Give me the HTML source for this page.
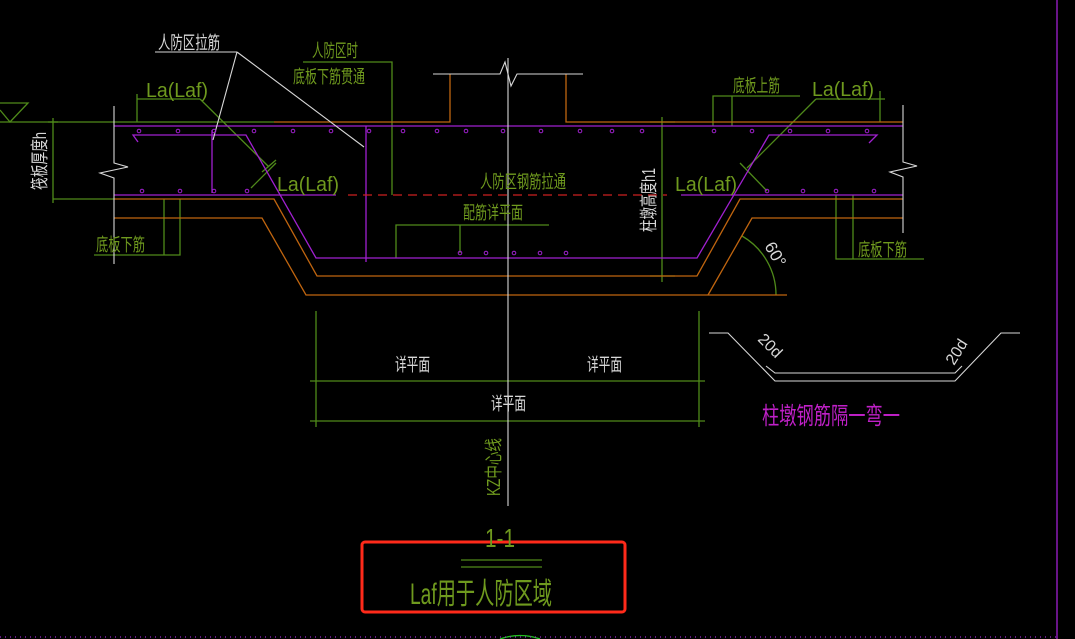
<!DOCTYPE html>
<html><head><meta charset="utf-8"><style>
html,body{margin:0;padding:0;background:#000;width:1075px;height:639px;overflow:hidden;}
svg{display:block;}
text{font-family:"Liberation Sans","Noto Sans CJK SC",sans-serif;}
.g{fill:#6f9a1e;}
.w{fill:#d8d8d8;}
</style></head><body>
<svg width="1075" height="639" viewBox="0 0 1075 639" xmlns="http://www.w3.org/2000/svg" overflow="hidden">
<rect width="1075" height="639" fill="#000"/>
<g fill="none" stroke-width="1.3">
<g stroke="#4f8a1a">
<polyline points="0,122 274,122"/>
<polyline points="0,103 28,103 10,122 0,110"/>
<line x1="53" y1="118" x2="53" y2="203"/>
<line x1="53" y1="199" x2="114" y2="199"/>
<line x1="48" y1="122" x2="58" y2="122"/>
<polyline points="137,94 137,122"/><line x1="137" y1="99" x2="200" y2="99"/>
<line x1="200" y1="99" x2="269" y2="167"/>
<line x1="262" y1="172" x2="276" y2="160"/>
<line x1="251" y1="188" x2="276" y2="163"/>
<polyline points="303,62 392,62 392,195"/>
<polyline points="94,255 180,255 180,199"/><line x1="164" y1="199" x2="164" y2="255"/>
<polyline points="396,258 396,225 549,225"/><line x1="460" y1="225" x2="460" y2="253"/>
<polyline points="713,126 713,96 800,96"/><line x1="732" y1="96" x2="732" y2="126"/>
<polyline points="816,99 885,99"/><line x1="880" y1="91" x2="880" y2="122"/>
<line x1="816" y1="99" x2="747" y2="168"/>
<line x1="740" y1="163" x2="767" y2="191"/>
<line x1="662" y1="117" x2="662" y2="282"/>
<line x1="650" y1="122" x2="675" y2="122"/><line x1="650" y1="276" x2="675" y2="276"/>
<polyline points="836,195 836,259 924,259"/><line x1="853" y1="195" x2="853" y2="259"/>
<path d="M742,236 A68,68 0 0 1 776,295"/>
<line x1="316" y1="311" x2="316" y2="427"/><line x1="699" y1="311" x2="699" y2="427"/>
<line x1="310" y1="381" x2="705" y2="381"/><line x1="310" y1="421" x2="705" y2="421"/>
<line x1="461" y1="560" x2="542" y2="560"/><line x1="461" y1="567" x2="542" y2="567"/>
</g>
<path d="M500,639 Q520,632 540,639" stroke="#20c020"/>
<g stroke="#c0650f">
<polyline points="274,122 450,122 450,74"/>
<polyline points="566,74 566,122 903,122"/>
<polyline points="114,199 274,199 317,276 697,276 740,199 903,199"/>
<polyline points="114,218 262,218 306,295 787,295"/>
<polyline points="708,295 752,218 903,218"/>
</g>
<g stroke="#a020d0">
<line x1="114" y1="126" x2="903" y2="126"/>
<polyline points="138,142 133,135 246,135 316,258 697,258 769,135 877,135 869,143"/>
<line x1="114" y1="195" x2="336" y2="195"/>
<line x1="681" y1="195" x2="903" y2="195"/>
<line x1="366" y1="126" x2="366" y2="262"/>
<line x1="212" y1="130" x2="212" y2="193"/>
<line x1="1057" y1="0" x2="1057" y2="639"/>
</g>
<line x1="348" y1="195" x2="667" y2="195" stroke="#cc2020" stroke-dasharray="9,6"/>
<line x1="0" y1="637" x2="1057" y2="637" stroke="#a020d0" stroke-dasharray="1,4"/>
<g stroke="#d8d8d8" stroke-width="1.1">
<polyline points="155,52 237,52"/>
<line x1="237" y1="52" x2="213" y2="140"/>
<line x1="237" y1="52" x2="364" y2="147"/>
<polyline points="433,74 500,74 505,62 511,86 517,74 583,74"/>
<polyline points="114,106 114,163 128,167 100,173 114,178 114,264"/>
<polyline points="903,105 903,162 917,166 890,172 903,177 903,233"/>
<line x1="508" y1="58" x2="508" y2="506"/>
<polyline points="709,333 728,333 775,381 955,381 1001,333 1020,333"/>
<polyline points="766,366 775,373 955,373 962,366"/>
</g>
<rect x="362" y="542" width="263" height="70" rx="3" stroke="#ff2a1a" stroke-width="3"/>
</g>
<g fill="none" stroke="#a020d0" stroke-width="1">
<circle cx="139" cy="131" r="1.8"/><circle cx="178" cy="131" r="1.8"/><circle cx="214" cy="131" r="1.8"/><circle cx="254" cy="131" r="1.8"/><circle cx="293" cy="131" r="1.8"/><circle cx="331" cy="131" r="1.8"/><circle cx="369" cy="131" r="1.8"/><circle cx="403" cy="131" r="1.8"/><circle cx="437" cy="131" r="1.8"/><circle cx="466" cy="131" r="1.8"/><circle cx="503" cy="131" r="1.8"/><circle cx="541" cy="131" r="1.8"/><circle cx="580" cy="131" r="1.8"/><circle cx="612" cy="131" r="1.8"/><circle cx="642" cy="131" r="1.8"/><circle cx="714" cy="131" r="1.8"/><circle cx="752" cy="131" r="1.8"/><circle cx="790" cy="131" r="1.8"/><circle cx="828" cy="131" r="1.8"/><circle cx="867" cy="131" r="1.8"/>
<circle cx="142" cy="191" r="1.8"/><circle cx="180" cy="191" r="1.8"/><circle cx="214" cy="191" r="1.8"/><circle cx="247" cy="191" r="1.8"/><circle cx="767" cy="191" r="1.8"/><circle cx="803" cy="191" r="1.8"/><circle cx="836" cy="191" r="1.8"/><circle cx="874" cy="191" r="1.8"/>
<circle cx="460" cy="253" r="1.8"/><circle cx="486" cy="253" r="1.8"/><circle cx="514" cy="253" r="1.8"/><circle cx="540" cy="253" r="1.8"/><circle cx="566" cy="253" r="1.8"/>
</g>
<g font-size="18">
<text class="w" x="158" y="49" textLength="62" lengthAdjust="spacingAndGlyphs">人防区拉筋</text>
<text class="g" x="312" y="57" textLength="46" lengthAdjust="spacingAndGlyphs">人防区时</text>
<text class="g" x="293" y="83" textLength="72" lengthAdjust="spacingAndGlyphs">底板下筋贯通</text>
<text class="g" x="146" y="97" font-size="20" textLength="62" lengthAdjust="spacingAndGlyphs">La(Laf)</text>
<text class="g" x="277" y="191" font-size="20" textLength="62" lengthAdjust="spacingAndGlyphs">La(Laf)</text>
<text class="g" x="812" y="96" font-size="20" textLength="62" lengthAdjust="spacingAndGlyphs">La(Laf)</text>
<text class="g" x="675" y="191" font-size="20" textLength="62" lengthAdjust="spacingAndGlyphs">La(Laf)</text>
<text class="g" x="96" y="251" textLength="49" lengthAdjust="spacingAndGlyphs">底板下筋</text>
<text class="g" x="858" y="256" textLength="49" lengthAdjust="spacingAndGlyphs">底板下筋</text>
<text class="g" x="733" y="92" textLength="47" lengthAdjust="spacingAndGlyphs">底板上筋</text>
<text class="g" x="480" y="188" textLength="86" lengthAdjust="spacingAndGlyphs">人防区钢筋拉通</text>
<text class="g" x="463" y="219" textLength="60" lengthAdjust="spacingAndGlyphs">配筋详平面</text>
<text class="w" transform="translate(46,190) rotate(-90)" textLength="58" lengthAdjust="spacingAndGlyphs">筏板厚度h</text>
<text class="w" transform="translate(655,232) rotate(-90)" textLength="64" lengthAdjust="spacingAndGlyphs">柱墩高度h1</text>
<text class="w" transform="translate(764,246) rotate(60)" font-size="17">60°</text>
<text class="w" x="395" y="371" textLength="35" lengthAdjust="spacingAndGlyphs">详平面</text>
<text class="w" x="587" y="371" textLength="35" lengthAdjust="spacingAndGlyphs">详平面</text>
<text class="w" x="491" y="410" textLength="35" lengthAdjust="spacingAndGlyphs">详平面</text>
<text class="g" transform="translate(500,496) rotate(-90)" textLength="58" lengthAdjust="spacingAndGlyphs">KZ中心线</text>
<text class="w" transform="translate(757,340) rotate(45)" font-size="16">20d</text>
<text class="w" transform="translate(954,366) rotate(-58)" font-size="16">20d</text>
<text x="762" y="424" font-size="24" fill="#c020c8" textLength="138" lengthAdjust="spacingAndGlyphs">柱墩钢筋隔一弯一</text>
<text class="g" x="485" y="547" font-size="26" textLength="30" lengthAdjust="spacingAndGlyphs">1-1</text>
<text class="g" x="410" y="604" font-size="30" textLength="142" lengthAdjust="spacingAndGlyphs">Laf用于人防区域</text>
</g>
</svg>
</body></html>
